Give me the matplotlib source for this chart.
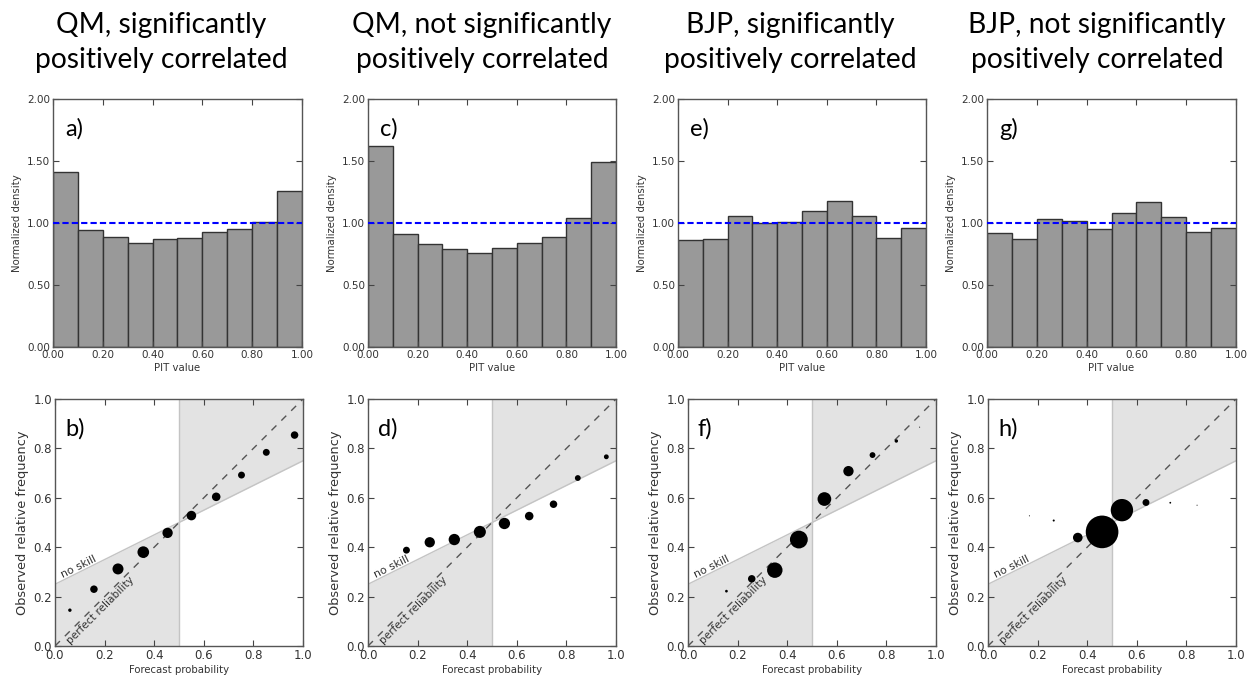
import numpy as np
import matplotlib.pyplot as plt
from matplotlib.ticker import FormatStrFormatter

# Titles and panel letters
titles = ['QM, significantly\npositively correlated',
          'QM, not significantly\npositively correlated',
          'BJP, significantly\npositively correlated',
          'BJP, not significantly\npositively correlated']
hist_letters = ['a)', 'c)', 'e)', 'g)']
rel_letters = ['b)', 'd)', 'f)', 'h)']

# PIT histograms (normalized density per bin)
pit_bins = [0.0, 0.1, 0.2, 0.3, 0.4, 0.5, 0.6, 0.7, 0.8, 0.9]
pit_qm_sig = [1.41, 0.94, 0.89, 0.84, 0.87, 0.88, 0.93, 0.95, 1.01, 1.26]
pit_qm_nsig = [1.62, 0.91, 0.83, 0.79, 0.76, 0.80, 0.84, 0.89, 1.04, 1.49]
pit_bjp_sig = [0.86, 0.87, 1.06, 1.00, 1.01, 1.10, 1.18, 1.06, 0.88, 0.96]
pit_bjp_nsig = [0.92, 0.87, 1.03, 1.02, 0.95, 1.08, 1.17, 1.05, 0.93, 0.96]

# Reliability diagrams: forecast prob, observed freq, relative count
rel_qm_sig_x = [0.06, 0.157, 0.254, 0.356, 0.454, 0.55, 0.65, 0.752, 0.852, 0.966]
rel_qm_sig_y = [0.145, 0.23, 0.312, 0.38, 0.458, 0.528, 0.604, 0.692, 0.784, 0.854]
rel_qm_sig_n = [11, 53, 114, 128, 100, 86, 69, 45, 45, 53]

rel_qm_nsig_x = [0.155, 0.249, 0.348, 0.451, 0.55, 0.65, 0.748, 0.846, 0.961]
rel_qm_nsig_y = [0.388, 0.42, 0.431, 0.462, 0.496, 0.526, 0.574, 0.68, 0.766]
rel_qm_nsig_n = [45, 100, 121, 137, 121, 69, 53, 32, 22]

rel_bjp_sig_x = [0.155, 0.257, 0.35, 0.447, 0.55, 0.647, 0.744, 0.84, 0.934]
rel_bjp_sig_y = [0.222, 0.272, 0.307, 0.431, 0.595, 0.708, 0.773, 0.83, 0.886]
rel_bjp_sig_n = [7, 53, 225, 299, 177, 100, 32, 11, 1]

rel_bjp_nsig_x = [0.167, 0.265, 0.362, 0.46, 0.54, 0.637, 0.735, 0.843]
rel_bjp_nsig_y = [0.527, 0.508, 0.439, 0.462, 0.55, 0.581, 0.58, 0.57]
rel_bjp_nsig_n = [1, 4, 87, 1004, 471, 45, 3, 1]

hist_data = [pit_qm_sig, pit_qm_nsig, pit_bjp_sig, pit_bjp_nsig]
rel_data = [(rel_qm_sig_x, rel_qm_sig_y, rel_qm_sig_n),
            (rel_qm_nsig_x, rel_qm_nsig_y, rel_qm_nsig_n),
            (rel_bjp_sig_x, rel_bjp_sig_y, rel_bjp_sig_n),
            (rel_bjp_nsig_x, rel_bjp_nsig_y, rel_bjp_nsig_n)]

W, H = 1253, 679
fig = plt.figure(figsize=(W / 100, H / 100), dpi=100)


def add_ax(left, top, right, bottom):
    return fig.add_axes([left / W, 1 - bottom / H, (right - left) / W, (bottom - top) / H])


def style_ax(ax, tsize):
    ax.tick_params(direction='in', top=True, right=True, length=4, width=0.8,
                   color='#444444', labelcolor='#333333', labelsize=tsize, pad=2)
    for s in ax.spines.values():
        s.set_color('#555555')
        s.set_linewidth(1)


hist_boxes = [(53, 99, 302, 347), (368, 99, 616, 347), (678, 99, 926, 347), (987, 99, 1236, 347)]
rel_boxes = [(55, 399, 303, 646), (368, 399, 616, 646), (688, 399, 936, 646), (988, 399, 1236, 646)]
title_x = [161, 482, 790, 1097]

for i in range(4):
    # title (two lines)
    l1, l2 = titles[i].split('\n')
    fig.text(title_x[i] / W, 1 - 25 / H, l1, ha='center', va='center', fontsize=20.3,
             family='Lato', color='black')
    fig.text(title_x[i] / W, 1 - 60 / H, l2, ha='center', va='center', fontsize=20.3,
             family='Lato', color='black')

    # PIT histogram
    ax = add_ax(*hist_boxes[i])
    ax.bar(pit_bins, hist_data[i], width=0.1, align='edge', color='#999999',
           edgecolor='#333333', linewidth=1)
    ax.axhline(1.0, color='blue', ls='--', lw=1.5, dashes=(3, 1.5), zorder=3)
    ax.set_xlim(0, 1)
    ax.set_ylim(0, 2)
    ax.set_xticks([0, 0.2, 0.4, 0.6, 0.8, 1.0])
    ax.set_yticks([0, 0.5, 1.0, 1.5, 2.0])
    ax.xaxis.set_major_formatter(FormatStrFormatter('%.2f'))
    ax.yaxis.set_major_formatter(FormatStrFormatter('%.2f'))
    ax.set_xlabel('PIT value', fontsize=7.3, color='#333333', labelpad=2)
    ax.set_ylabel('Normalized density', fontsize=7.3, color='#333333', labelpad=4)
    style_ax(ax, 7.5)
    ax.text(0.05, 0.88, hist_letters[i], transform=ax.transAxes, fontsize=17,
            family='Lato', va='center', ha='left')

    # reliability diagram
    ax = add_ax(*rel_boxes[i])
    ax.fill_between([0, 0.5], [0, 0], [0.25, 0.5], color='#e3e3e3', lw=0, zorder=0)
    ax.fill_between([0.5, 1], [0.5, 0.75], [1, 1], color='#e3e3e3', lw=0, zorder=0)
    ax.axvline(0.5, color='#c4c4c4', lw=1, zorder=1)
    ax.plot([0, 1], [0.25, 0.75], color='#c4c4c4', lw=1, zorder=1)
    ax.plot([0, 1], [0, 1], color='#555555', ls='--', lw=1, dashes=(5, 5), zorder=2)
    rx, ry, rn = rel_data[i]
    ax.scatter(rx, ry, s=np.array(rn) * 0.55, c='black', lw=0, zorder=3)
    ax.set_xlim(0, 1)
    ax.set_ylim(0, 1)
    ax.set_xticks([0, 0.2, 0.4, 0.6, 0.8, 1.0])
    ax.set_yticks([0, 0.2, 0.4, 0.6, 0.8, 1.0])
    ax.xaxis.set_major_formatter(FormatStrFormatter('%.1f'))
    ax.yaxis.set_major_formatter(FormatStrFormatter('%.1f'))
    ax.set_xlabel('Forecast probability', fontsize=7.3, color='#333333', labelpad=2)
    ax.set_ylabel('Observed relative frequency', fontsize=9.3, color='#333333', labelpad=3)
    style_ax(ax, 8.5)
    ax.text(0.035, 0.27, 'no skill', rotation=26.5, rotation_mode='anchor',
            ha='left', va='bottom', fontsize=7.8, color='#333333')
    ax.text(0.07, 0.0, 'perfect reliability', rotation=45, rotation_mode='anchor',
            ha='left', va='bottom', fontsize=7.6, color='#333333')
    ax.text(0.04, 0.88, rel_letters[i], transform=ax.transAxes, fontsize=17,
            family='Lato', va='center', ha='left')

fig.savefig('out.png', dpi=100)
